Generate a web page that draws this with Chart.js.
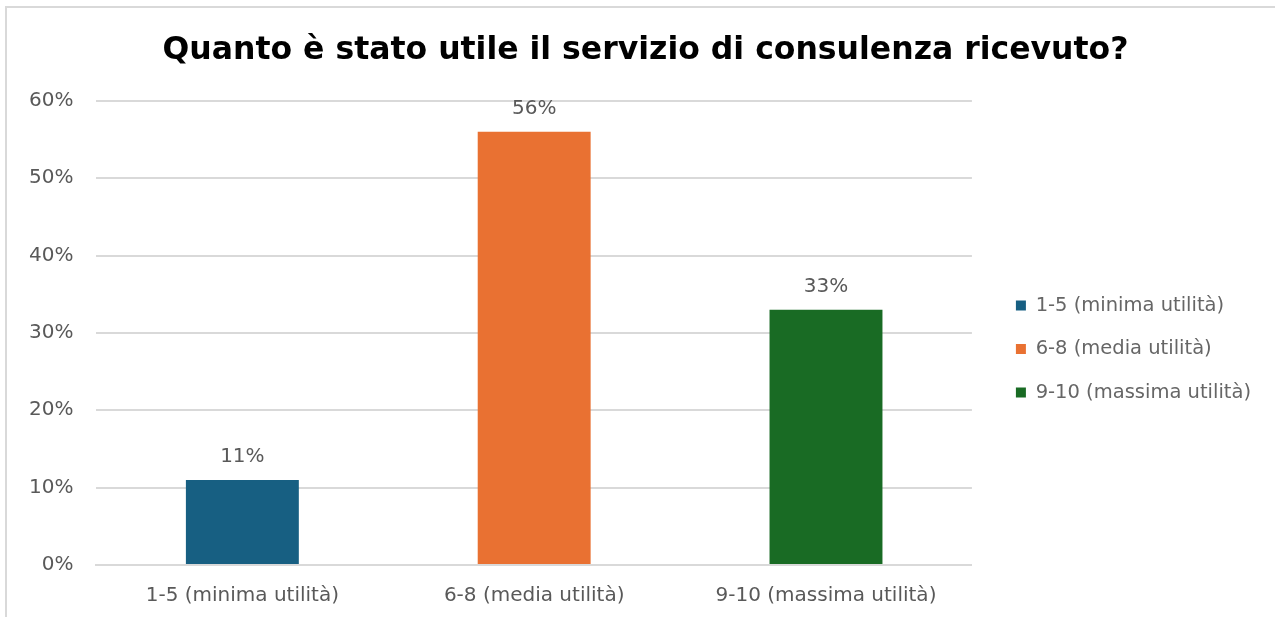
<!DOCTYPE html>
<html>
<head>
<meta charset="utf-8">
<script src="https://cdn.jsdelivr.net/npm/chart.js@4.4.1/dist/chart.umd.min.js"></script>
<style>
  html, body { margin: 0; padding: 0; background: #fff; }
  #wrap { position: relative; width: 1275px; height: 617px; overflow: hidden; }
  #frame { position: absolute; left: 5px; top: 6px; width: 1300px; height: 700px; border: 2px solid #d9d9d9; box-sizing: border-box; }
  #chart { position: absolute; left: 0; top: 0; }
</style>
</head>
<body>
<div id="wrap">
  <div id="frame"></div>
  <canvas id="chart" width="1275" height="617"></canvas>
</div>
<script>
const categories = ['1-5 (minima utilità)', '6-8 (media utilità)', '9-10 (massima utilità)'];
const shares = [0.11, 0.56, 0.33];
const barColors = ['#175f82', '#e97132', '#196b24'];
const yTicks = [0, 0.1, 0.2, 0.3, 0.4, 0.5, 0.6];

const fontFamily = 'DejaVu Sans, Verdana, sans-serif';
const textGrey = '#595959';
const legendShift = 20;
const titleShift = 12;

// percentage over each bar
const barLabels = {
    id: 'barLabels',
    afterDatasetsDraw(chart) {
        const ctx = chart.ctx;
        const meta = chart.getDatasetMeta(0);
        ctx.save();
        ctx.font = '20px ' + fontFamily;
        ctx.fillStyle = textGrey;
        ctx.textAlign = 'center';
        ctx.textBaseline = 'alphabetic';
        meta.data.forEach(function (bar, i) {
            ctx.fillText(Math.round(shares[i] * 100) + '%', bar.x, bar.y - 18);
        });
        ctx.restore();
    }
};

// make room between plot and legend, nudge the title a little to the right
const layoutTweaks = {
    id: 'layoutTweaks',
    beforeLayout(chart) {
        const legend = chart.legend;
        if (legend && !legend._gapPatched) {
            const fit = legend.fit;
            legend.fit = function () {
                fit.call(this);
                this.width += legendShift;
            };
            legend._gapPatched = true;
        }
    },
    afterLayout(chart) {
        if (chart.legend) {
            chart.legend.left += legendShift;
        }
        if (chart.titleBlock) {
            chart.titleBlock.left += titleShift;
            chart.titleBlock.right += titleShift;
        }
    }
};

new Chart(document.getElementById('chart').getContext('2d'), {
    type: 'bar',
    data: {
        labels: categories,
        datasets: [{
            data: shares,
            backgroundColor: barColors,
            categoryPercentage: 1,
            barPercentage: 0.387
        }]
    },
    options: {
        responsive: false,
        animation: false,
        layout: { padding: { left: 6, right: 14, top: 21, bottom: -10 } },
        plugins: {
            title: {
                display: true,
                text: 'Quanto è stato utile il servizio di consulenza ricevuto?',
                color: '#000',
                font: { family: fontFamily, size: 31.5, weight: 'bold' },
                padding: { top: 11, bottom: 31 }
            },
            legend: {
                position: 'right',
                title: { display: true, text: ' ', padding: 13, font: { size: 20 } },
                labels: {
                    color: textGrey,
                    font: { family: fontFamily, size: 19.5 },
                    boxWidth: 10,
                    boxHeight: 10,
                    padding: 24,
                    generateLabels: function () {
                        return categories.map(function (c, i) {
                            return { text: c, fillStyle: barColors[i], strokeStyle: barColors[i], lineWidth: 0, index: i };
                        });
                    }
                }
            },
            tooltip: { enabled: false }
        },
        scales: {
            x: {
                grid: { display: false, drawTicks: false },
                border: { display: true, color: '#d9d9d9', width: 2 },
                ticks: { color: textGrey, font: { family: fontFamily, size: 20 }, padding: 19 }
            },
            y: {
                min: 0,
                max: 0.6,
                afterBuildTicks: function (axis) {
                    axis.ticks = yTicks.map(function (v) { return { value: v }; });
                },
                grid: { color: '#d9d9d9', lineWidth: 2, drawTicks: false },
                border: { display: false },
                ticks: {
                    color: textGrey,
                    font: { family: fontFamily, size: 20 },
                    padding: 23,
                    callback: function (v) { return Math.round(v * 100) + '%'; }
                }
            }
        }
    },
    plugins: [barLabels, layoutTweaks]
});
</script>
</body>
</html>
